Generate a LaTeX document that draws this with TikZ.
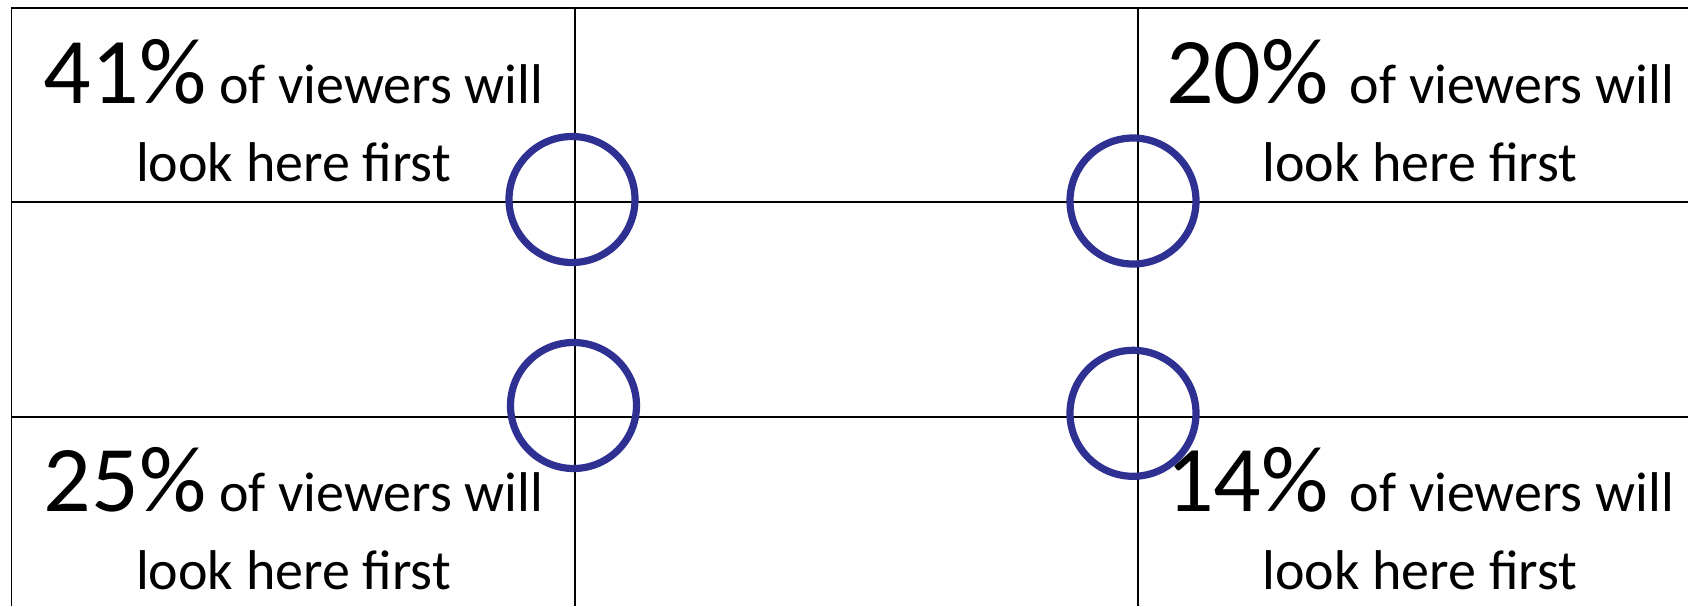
\documentclass[tikz,border=0pt]{standalone}
\usepackage{fontspec}
\setmainfont{Carlito}
\usepackage{tikz}

\definecolor{spotblue}{RGB}{46,49,146}
\newcommand{\pctfont}{\fontsize{47}{50}\selectfont}

\begin{document}
\begin{tikzpicture}[
    x=0.5pt, y=-0.5pt,
    grid/.style={draw=black, line width=0.8pt},
    spot/.style={draw=spotblue, circle, line width=3.6pt, minimum size=63pt, inner sep=0pt},
    caption/.style={anchor=base, inner sep=0pt, font=\fontsize{28}{30}\selectfont}
]
\useasboundingbox (0,0) rectangle (1688,606);

% Grid lines
\coordinate (tl) at (11.5,8);
\coordinate (tr) at (1688,8);
\coordinate (bl) at (11.5,606);
\draw[grid] (tr) -- (tl) -- (bl);
\draw[grid] (575,8) -- (575,606);
\draw[grid] (1138,8) -- (1138,606);
\draw[grid] (11.5,201.7) -- (1688,201.7);
\draw[grid] (11.5,417) -- (1688,417);

% Captions
\node[caption] (tl1) at (293.5,103.3) {{\pctfont 41\%} of viewers will};
\node[caption] (tl2) at (293.5,181.7) {look here first};
\node[caption] (tr1) at (1420,103.3) {{\pctfont 20\% }of viewers will};
\node[caption] (tr2) at (1420,181.7) {look here first};
\node[caption] (bl1) at (293.5,511.7) {{\pctfont 25\%} of viewers will};
\node[caption] (bl2) at (293.5,589.3) {look here first};
\node[caption] (br1) at (1420,511.7) {{\pctfont 14\% }of viewers will};
\node[caption] (br2) at (1420,589.3) {look here first};

% Focus circles
\node[spot] (c1) at (572,199.5) {};
\node[spot] (c2) at (1133,201) {};
\node[spot] (c3) at (573.5,405.5) {};
\node[spot] (c4) at (1133,413.3) {};

\end{tikzpicture}
\end{document}
